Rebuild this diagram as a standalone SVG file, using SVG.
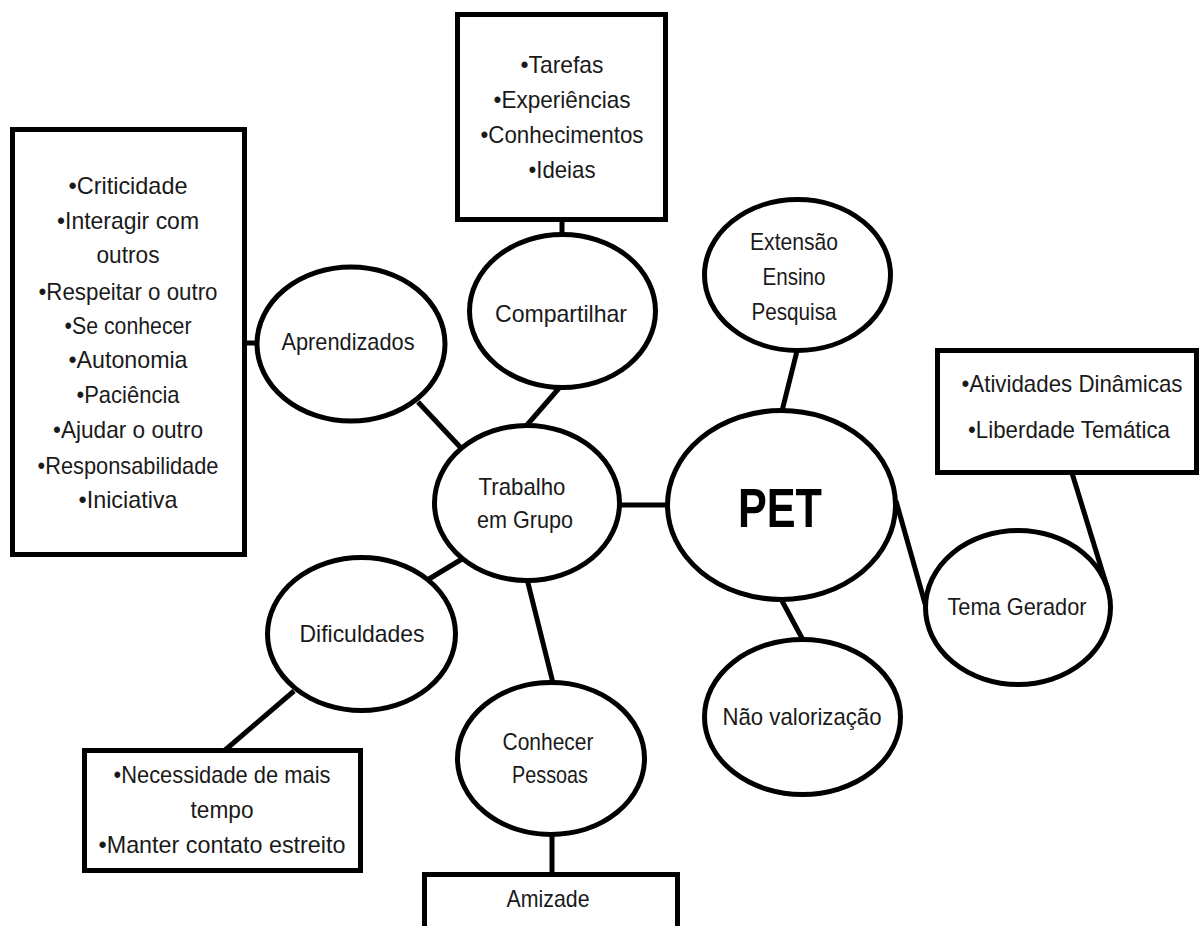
<svg xmlns="http://www.w3.org/2000/svg" width="1203" height="926" viewBox="0 0 1203 926">
<style>
.bg{fill:#fff}
.box,.node{fill:#fff;stroke:#000;stroke-width:5}
.conn line{stroke:#000;stroke-width:5;stroke-linecap:butt}
text{font-family:"Liberation Sans",Arial,sans-serif;font-size:24px;fill:#1a1a1a;text-anchor:middle}
.pet{font-weight:bold;font-size:56px;fill:#000}
</style>
<rect class="bg" x="0" y="0" width="1203" height="926"/>
<g id="connectors" class="conn">
<line x1="244" y1="343" x2="258" y2="343"/>
<line x1="418" y1="402" x2="461" y2="448"/>
<line x1="562" y1="219" x2="562" y2="235"/>
<line x1="560" y1="387" x2="527" y2="425"/>
<line x1="797" y1="351" x2="782" y2="411"/>
<line x1="619" y1="505" x2="668" y2="505"/>
<line x1="896" y1="501" x2="926" y2="607"/>
<line x1="1072" y1="473" x2="1108" y2="590"/>
<line x1="781" y1="599" x2="803" y2="640"/>
<line x1="462" y1="559" x2="429" y2="579"/>
<line x1="527" y1="579" x2="553" y2="683"/>
<line x1="294" y1="691" x2="224" y2="751"/>
<line x1="552" y1="833" x2="552" y2="876"/>
</g>
<g id="box-aprendizados">
<rect class="box" x="12.5" y="129.5" width="232" height="425"/>
<text x="128" y="194" textLength="119" lengthAdjust="spacingAndGlyphs">•Criticidade</text>
<text x="128" y="229" textLength="142" lengthAdjust="spacingAndGlyphs">•Interagir com</text>
<text x="128" y="263" textLength="63" lengthAdjust="spacingAndGlyphs">outros</text>
<text x="128" y="300" textLength="179" lengthAdjust="spacingAndGlyphs">•Respeitar o outro</text>
<text x="128" y="334" textLength="127" lengthAdjust="spacingAndGlyphs">•Se conhecer</text>
<text x="128" y="368" textLength="119" lengthAdjust="spacingAndGlyphs">•Autonomia</text>
<text x="128" y="403" textLength="103" lengthAdjust="spacingAndGlyphs">•Paciência</text>
<text x="128" y="438" textLength="150" lengthAdjust="spacingAndGlyphs">•Ajudar o outro</text>
<text x="128" y="474" textLength="181" lengthAdjust="spacingAndGlyphs">•Responsabilidade</text>
<text x="128" y="508" textLength="99" lengthAdjust="spacingAndGlyphs">•Iniciativa</text>
</g>
<g id="box-compartilhar">
<rect class="box" x="457.5" y="14.5" width="208" height="205"/>
<text x="562" y="73" textLength="83" lengthAdjust="spacingAndGlyphs">•Tarefas</text>
<text x="562" y="108" textLength="137" lengthAdjust="spacingAndGlyphs">•Experiências</text>
<text x="562" y="143" textLength="163" lengthAdjust="spacingAndGlyphs">•Conhecimentos</text>
<text x="562" y="178" textLength="67" lengthAdjust="spacingAndGlyphs">•Ideias</text>
</g>
<g id="box-tema">
<rect class="box" x="937.5" y="350.5" width="259" height="122"/>
<text x="1072" y="392" textLength="221" lengthAdjust="spacingAndGlyphs">•Atividades Dinâmicas</text>
<text x="1069" y="438" textLength="202" lengthAdjust="spacingAndGlyphs">•Liberdade Temática</text>
</g>
<g id="box-dificuldades">
<rect class="box" x="84.5" y="750.5" width="276" height="120"/>
<text x="222" y="783" textLength="217" lengthAdjust="spacingAndGlyphs">•Necessidade de mais</text>
<text x="222" y="818" textLength="63" lengthAdjust="spacingAndGlyphs">tempo</text>
<text x="222" y="853" textLength="247" lengthAdjust="spacingAndGlyphs">•Manter contato estreito</text>
</g>
<g id="box-amizade">
<rect class="box" x="424.5" y="874.5" width="253" height="60"/>
<text x="548" y="907" textLength="83" lengthAdjust="spacingAndGlyphs">Amizade</text>
</g>
<g id="node-aprendizados">
<ellipse class="node" cx="351" cy="344" rx="94" ry="77"/>
<text x="348" y="350" textLength="133" lengthAdjust="spacingAndGlyphs">Aprendizados</text>
</g>
<g id="node-compartilhar">
<ellipse class="node" cx="562.5" cy="311" rx="93" ry="76.5"/>
<text x="561" y="322" textLength="132" lengthAdjust="spacingAndGlyphs">Compartilhar</text>
</g>
<g id="node-extensao">
<ellipse class="node" cx="797.5" cy="275" rx="93" ry="75.5"/>
<text x="794" y="250" textLength="88" lengthAdjust="spacingAndGlyphs">Extensão</text>
<text x="794" y="285" textLength="63" lengthAdjust="spacingAndGlyphs">Ensino</text>
<text x="794" y="320" textLength="85" lengthAdjust="spacingAndGlyphs">Pesquisa</text>
</g>
<g id="node-trabalho">
<ellipse class="node" cx="527" cy="503" rx="92.5" ry="77.5"/>
<text x="522" y="495" textLength="87" lengthAdjust="spacingAndGlyphs">Trabalho</text>
<text x="525" y="528" textLength="96" lengthAdjust="spacingAndGlyphs">em Grupo</text>
</g>
<g id="node-pet">
<ellipse class="node" cx="781.5" cy="505" rx="114" ry="94.5"/>
<text class="pet" x="780" y="527" textLength="84" lengthAdjust="spacingAndGlyphs">PET</text>
</g>
<g id="node-tema">
<ellipse class="node" cx="1018" cy="607.5" rx="92.5" ry="77"/>
<text x="1017" y="615" textLength="139" lengthAdjust="spacingAndGlyphs">Tema Gerador</text>
</g>
<g id="node-naovalorizacao">
<ellipse class="node" cx="802.5" cy="717" rx="98" ry="77.5"/>
<text x="802" y="725" textLength="159" lengthAdjust="spacingAndGlyphs">Não valorização</text>
</g>
<g id="node-dificuldades">
<ellipse class="node" cx="361.5" cy="634" rx="94" ry="76.5"/>
<text x="362" y="642" textLength="125" lengthAdjust="spacingAndGlyphs">Dificuldades</text>
</g>
<g id="node-conhecer">
<ellipse class="node" cx="551" cy="758.5" rx="93.5" ry="76"/>
<text x="548" y="750" textLength="91" lengthAdjust="spacingAndGlyphs">Conhecer</text>
<text x="550" y="783" textLength="76" lengthAdjust="spacingAndGlyphs">Pessoas</text>
</g>
</svg>
